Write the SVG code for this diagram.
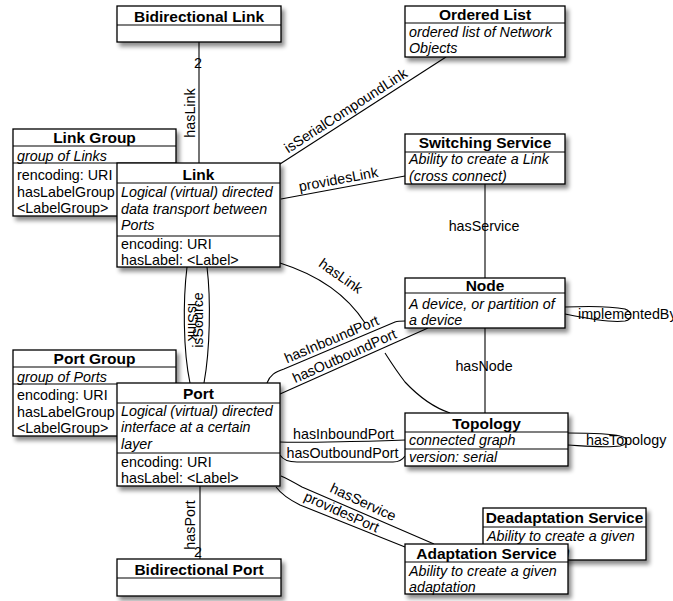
<svg xmlns="http://www.w3.org/2000/svg" width="673" height="601" viewBox="0 0 673 601">
<defs>
<filter id="sh" x="-10%" y="-10%" width="130%" height="140%">
<feDropShadow dx="3" dy="4" stdDeviation="2.2" flood-color="#000" flood-opacity="0.45"/>
</filter>
</defs>
<style>
text{font-family:"Liberation Sans",Arial,Helvetica,sans-serif;fill:#000}
.box{fill:#fff;stroke:#000;stroke-width:1.3;filter:url(#sh)}
.div{stroke:#000;stroke-width:1.2}
.t{font-size:15.5px;font-weight:bold;text-anchor:middle}
.d{font-size:14.3px;font-style:italic}
.a{font-size:14.3px}
.c{fill:none;stroke:#000;stroke-width:1.1}
.l{font-size:14.3px;text-anchor:middle}
.ls{font-size:14.3px}
</style>
<rect width="673" height="601" fill="#fff"/>
<g id="connectors">
<!-- Bidirectional Link - Link -->
<path class="c" d="M199,42 L199,163"/>
<text class="l" x="198" y="68">2</text>
<text class="l" transform="translate(195,113) rotate(-90)">hasLink</text>
<!-- isSerialCompoundLink -->
<path class="c" d="M280,164 L446,57"/>
<text class="l" transform="translate(350.5,118) rotate(-32.8)" y="-4">isSerialCompoundLink</text>
<!-- providesLink -->
<path class="c" d="M281,199 L405,176"/>
<text class="l" transform="translate(340,188) rotate(-10.6)" y="-4">providesLink</text>
<!-- hasService switching-node -->
<path class="c" d="M485,184 L485,278"/>
<text class="l" x="484" y="231">hasService</text>
<!-- hasNode -->
<path class="c" d="M485,328 L485,413"/>
<text class="l" x="484" y="371">hasNode</text>
<!-- implementedBy loop -->
<path class="c" d="M565,307 C590,306 615,307 625,309 C633,312 633,319 625,321 C610,323 585,318 565,314"/>
<text class="ls" x="578" y="319">implementedBy</text>
<!-- hasTopology loop -->
<path class="c" d="M568,433 C590,433 612,434 620,436 C629,438 629,444 620,446 C605,448 585,446 568,445"/>
<text class="ls" x="586" y="445">hasTopology</text>
<!-- Link - Topology hasLink (partly hidden behind the port labels) -->
<path class="c" d="M280,263 C315,274 345,292 365,323 M385,353 C392,364 398,373 405,382 C420,398 435,408 450,413"/>
<text class="l" transform="translate(338,280) rotate(35)">hasLink</text>
<!-- Port - Node -->
<path class="c" d="M267,383 C270,375 275,372 284,369 L395,322 C398,321 401,321 405,321"/>
<path class="c" d="M280,394 L428,328"/>
<text class="l" transform="translate(335,347.5) rotate(-22.9)" y="-4">hasInboundPort</text>
<text class="l" transform="translate(348,364) rotate(-24)" y="-4">hasOutboundPort</text>
<!-- isSink / isSource -->
<path class="c" d="M187,267 C183,300 183,350 190,383"/>
<path class="c" d="M207,267 C211,300 210,350 204,383"/>
<text class="l" transform="translate(188,322) rotate(90)">isSink</text>
<text class="l" transform="translate(203,320) rotate(-90)">isSource</text>
<!-- Port - Topology -->
<path class="c" d="M280,442 C300,443 380,441 405,440"/>
<text class="l" x="343.5" y="439">hasInboundPort</text>
<path class="c" d="M280,455 C283,460 288,462 297,462 L393,462 C400,462 403,459 405,456"/>
<text class="l" x="342.5" y="458">hasOutboundPort</text>
<!-- Port - Adaptation -->
<path class="c" d="M281,476 C288,479 295,483 302,487 L434,544"/>
<text class="l" transform="translate(359,511) rotate(25)" y="-5">hasService</text>
<path class="c" d="M276,487 C282,495 290,500 300,505 L405,547"/>
<text class="l" transform="translate(338,520) rotate(24)" y="-4">providesPort</text>
<!-- hasPort -->
<path class="c" d="M200,486 L200,559"/>
<text class="l" transform="translate(195,525) rotate(-90)">hasPort</text>
<text class="l" x="198" y="557">2</text>
</g>
<g id="bidirectional-link">
<rect class="box" x="117" y="6" width="164" height="36"/>
<line class="div" x1="117" y1="25" x2="281" y2="25"/>
<text class="t" x="199" y="21.5">Bidirectional Link</text>
</g>
<g id="ordered-list">
<rect class="box" x="405" y="6" width="160" height="51"/>
<line class="div" x1="405" y1="23" x2="565" y2="23"/>
<text class="t" x="485" y="19.5">Ordered List</text>
<text class="d" x="409" y="36.5">ordered list of Network</text>
<text class="d" x="409" y="52.5">Objects</text>
</g>
<g id="switching-service">
<rect class="box" x="405" y="134" width="160" height="50"/>
<line class="div" x1="405" y1="152" x2="565" y2="152"/>
<text class="t" x="485" y="148">Switching Service</text>
<text class="d" x="409" y="164">Ability to create a Link</text>
<text class="d" x="409" y="180.5">(cross connect)</text>
</g>
<g id="link-group">
<rect class="box" x="13" y="129" width="163" height="87"/>
<line class="div" x1="13" y1="146" x2="176" y2="146"/>
<line class="div" x1="13" y1="163" x2="176" y2="163"/>
<text class="t" x="94.5" y="143">Link Group</text>
<text class="d" x="17" y="161">group of Links</text>
<text class="a" x="17" y="180">rencoding: URI</text>
<text class="a" x="17" y="196.5">hasLabelGroup</text>
<text class="a" x="17" y="213">&lt;LabelGroup&gt;</text>
</g>
<g id="link">
<rect class="box" x="117" y="163" width="163" height="104"/>
<line class="div" x1="117" y1="183" x2="280" y2="183"/>
<line class="div" x1="117" y1="236" x2="280" y2="236"/>
<text class="t" x="198.5" y="180">Link</text>
<text class="d" x="121" y="197">Logical (virtual) directed</text>
<text class="d" x="121" y="213.5">data transport between</text>
<text class="d" x="121" y="230">Ports</text>
<text class="a" x="121" y="249">encoding: URI</text>
<text class="a" x="121" y="264.5">hasLabel: &lt;Label&gt;</text>
</g>
<g id="node">
<rect class="box" x="405" y="278" width="160" height="50"/>
<line class="div" x1="405" y1="293" x2="565" y2="293"/>
<text class="t" x="485" y="290.5">Node</text>
<text class="d" x="409" y="308.5">A device, or partition of</text>
<text class="d" x="409" y="325">a device</text>
</g>
<g id="port-group">
<rect class="box" x="13" y="350" width="163" height="86"/>
<line class="div" x1="13" y1="367" x2="176" y2="367"/>
<line class="div" x1="13" y1="384" x2="176" y2="384"/>
<text class="t" x="94.5" y="364">Port Group</text>
<text class="d" x="17" y="381.5">group of Ports</text>
<text class="a" x="17" y="400">encoding: URI</text>
<text class="a" x="17" y="416.5">hasLabelGroup</text>
<text class="a" x="17" y="433">&lt;LabelGroup&gt;</text>
</g>
<g id="port">
<rect class="box" x="117" y="383" width="163" height="103"/>
<line class="div" x1="117" y1="403" x2="280" y2="403"/>
<line class="div" x1="117" y1="453" x2="280" y2="453"/>
<text class="t" x="198.5" y="399">Port</text>
<text class="d" x="121" y="415.5">Logical (virtual) directed</text>
<text class="d" x="121" y="432">interface at a certain</text>
<text class="d" x="121" y="448.5">layer</text>
<text class="a" x="121" y="466.5">encoding: URI</text>
<text class="a" x="121" y="483">hasLabel: &lt;Label&gt;</text>
</g>
<g id="topology">
<rect class="box" x="405" y="413" width="163" height="53"/>
<line class="div" x1="405" y1="432" x2="568" y2="432"/>
<line class="div" x1="405" y1="449" x2="568" y2="449"/>
<text class="t" x="486.5" y="428.5">Topology</text>
<text class="d" x="409" y="445">connected graph</text>
<text class="d" x="409" y="462">version: serial</text>
</g>
<g id="deadaptation-service">
<rect class="box" x="483" y="508" width="163" height="52"/>
<line class="div" x1="483" y1="527" x2="646" y2="527"/>
<text class="t" x="564.5" y="523">Deadaptation Service</text>
<text class="d" x="487" y="540.5">Ability to create a given</text>
<text class="d" x="487" y="557">deadaptation</text>
</g>
<g id="adaptation-service">
<rect class="box" x="405" y="544" width="163" height="50"/>
<line class="div" x1="405" y1="562" x2="568" y2="562"/>
<text class="t" x="486.5" y="558.5">Adaptation Service</text>
<text class="d" x="409" y="575.5">Ability to create a given</text>
<text class="d" x="409" y="592">adaptation</text>
</g>
<g id="bidirectional-port">
<rect class="box" x="117" y="559" width="164" height="37"/>
<line class="div" x1="117" y1="578" x2="281" y2="578"/>
<text class="t" x="199" y="574.5">Bidirectional Port</text>
</g>
</svg>
